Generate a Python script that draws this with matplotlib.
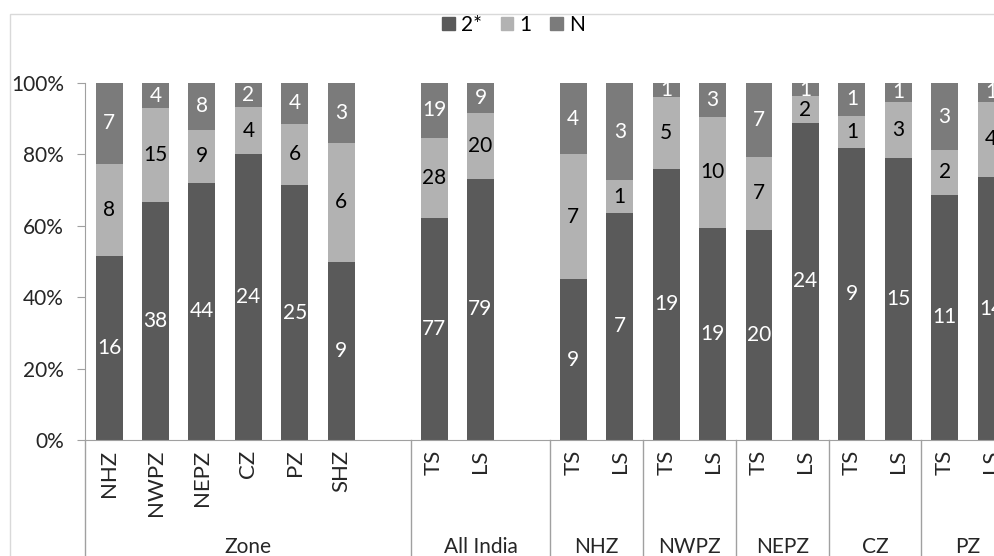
import matplotlib
matplotlib.use("Agg")
import matplotlib.pyplot as plt
from matplotlib.patches import Patch, Rectangle
import matplotlib.transforms as mtransforms
import numpy as np

plt.rcParams['font.family'] = ['Lato', 'DejaVu Sans']

# data
labels = ["NHZ", "NWPZ", "NEPZ", "CZ", "PZ", "SHZ", "",
          "TS", "LS", "",
          "TS", "LS", "TS", "LS", "TS", "LS", "TS", "LS", "TS", "LS"]
groups = ["Zone", "All India", "NHZ", "NWPZ", "NEPZ", "CZ", "PZ"]
group_sizes = [7, 3, 2, 2, 2, 2, 2]

two_star = [16, 38, 44, 24, 25, 9, 0, 77, 79, 0, 9, 7, 19, 19, 20, 24, 9, 15, 11, 14]
one = [8, 15, 9, 4, 6, 6, 0, 28, 20, 0, 7, 1, 5, 10, 7, 2, 1, 3, 2, 4]
n_vals = [7, 4, 8, 2, 4, 3, 0, 19, 9, 0, 4, 3, 1, 3, 7, 1, 1, 1, 3, 1]

series = [("2*", two_star, "#5a5a5a", "white"),
          ("1", one, "#b2b2b2", "black"),
          ("N", n_vals, "#7b7b7b", "white")]

fs = 15
x = np.arange(len(labels))
totals = np.array(two_star) + np.array(one) + np.array(n_vals)
safe = np.where(totals == 0, 1, totals)

fig = plt.figure(figsize=(9.95, 5.56), dpi=100)
ax = fig.add_axes([0.0854, 0.2086, 0.934, 0.642])

bottom = np.zeros(len(labels))
for name, vals, col, tcol in series:
    vals = np.array(vals)
    pct = vals / safe * 100
    ax.bar(x, pct, 0.58, bottom=bottom, color=col, label=name)
    for xi, p, v, b in zip(x, pct, vals, bottom):
        if v > 0:
            ax.text(xi, b + p / 2, str(v), ha='center', va='center',
                    color=tcol, fontsize=fs)
    bottom += pct

ax.set_xlim(-0.52, 19.5)
ax.set_ylim(0, 100)
ax.set_yticks(range(0, 101, 20))
ax.set_yticklabels([f"{v}%" for v in range(0, 101, 20)], fontsize=fs, color="#262626")
ax.tick_params(axis='y', direction='out', length=6, color="#a0a0a0", pad=9)
ax.set_xticks(x)
ax.set_xticklabels(labels, rotation=90, fontsize=fs + 1, color="#262626")
ax.tick_params(axis='x', length=0, pad=7)

for s in ['top', 'right']:
    ax.spines[s].set_visible(False)
for s in ['left', 'bottom']:
    ax.spines[s].set_color("#a0a0a0")

# multi-level category separators and group labels
trans = mtransforms.blended_transform_factory(ax.transData, ax.transAxes)
edges = np.concatenate([[-0.52], np.cumsum(group_sizes) - 0.5])
for e in edges:
    ax.plot([e, e], [0, -0.5], color="#a0a0a0", lw=1, transform=trans, clip_on=False)
start = 0
for g, size in zip(groups, group_sizes):
    center = start + (size - 1) / 2
    ax.text(center, -0.3165, g, ha='center', va='baseline', fontsize=fs,
            color="#262626", transform=trans, clip_on=False)
    start += size

# chart area border
fig.add_artist(Rectangle((10 / 995, -0.05), 1.2, 1 - 14 / 556 + 0.05,
                         transform=fig.transFigure, fill=False,
                         edgecolor="#d9d9d9", lw=1))

handles = [Patch(color=c, label=nm) for nm, _, c, _ in series]
fig.legend(handles=handles, loc='center', bbox_to_anchor=(0.516, 0.955), ncol=3,
           frameon=False, fontsize=fs, handlelength=0.6, handleheight=0.6,
           handletextpad=0.3, columnspacing=0.9)

fig.savefig("out.png", dpi=100)
